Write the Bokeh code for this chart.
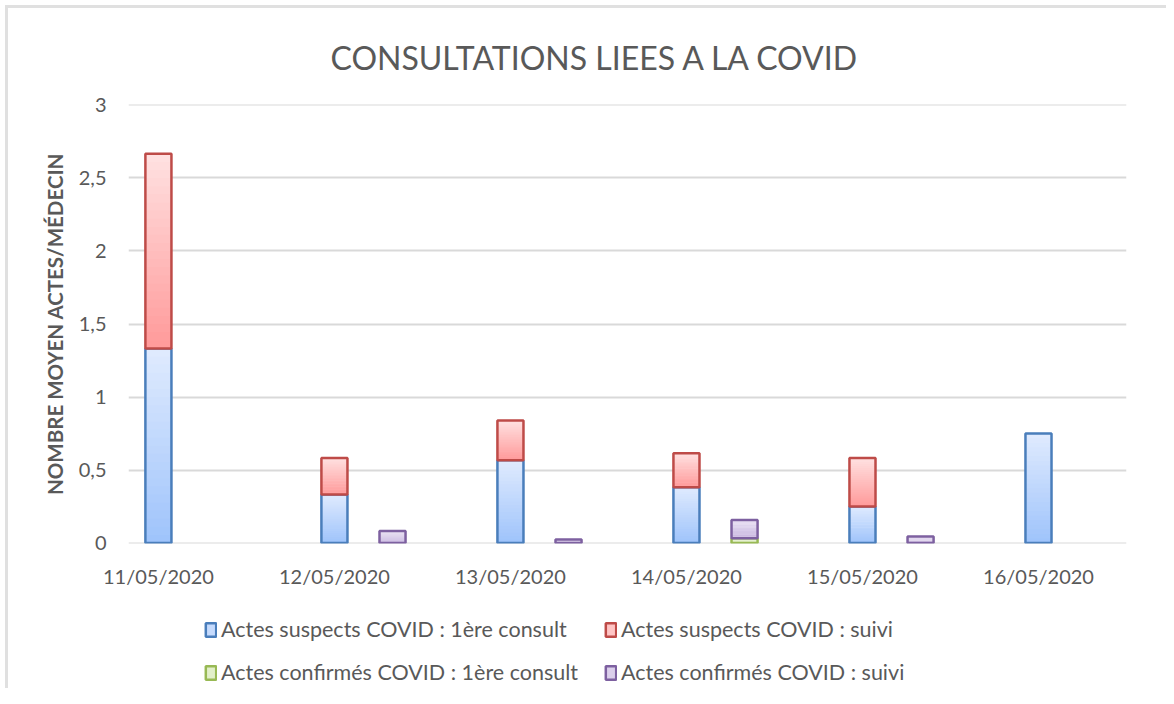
import numpy as np
from bokeh.plotting import figure
from bokeh.layouts import column
from bokeh.models import Range1d, FixedTicker, Legend, LegendItem, Title
from bokeh.embed import file_html
from bokeh.resources import INLINE

dates = ["11/05/2020", "12/05/2020", "13/05/2020", "14/05/2020", "15/05/2020", "16/05/2020"]
susp_first = [1.333, 0.333, 0.567, 0.383, 0.25, 0.75]
susp_suivi = [1.333, 0.25, 0.273, 0.232, 0.333, 0.0]
conf_first = [0.0, 0.0, 0.0, 0.033, 0.0, 0.0]
conf_suivi = [0.0, 0.083, 0.025, 0.125, 0.045, 0.0]

labels = ["Actes suspects COVID : 1ère consult", "Actes suspects COVID : suivi",
          "Actes confirmés COVID : 1ère consult", "Actes confirmés COVID : suivi"]

FONT = "Lato"
GREY = "#595959"

p = figure(width=1158, height=592, output_backend="svg", toolbar_location=None,
           x_range=Range1d(-0.17, 5.5), y_range=Range1d(-0.003, 3.003),
           min_border_left=120, min_border_right=40, min_border_top=96, min_border_bottom=57)
p.outline_line_color = None
p.xgrid.grid_line_color = None
p.ygrid.grid_line_color = "#d9d9d9"
p.ygrid.grid_line_width = 2

p.title = Title(text="CONSULTATIONS  LIEES A LA COVID", align="left", text_font=FONT,
                text_font_size="32px", text_font_style="normal", text_color=GREY,
                standoff=55, offset=202)

p.yaxis.ticker = FixedTicker(ticks=[0, 0.5, 1, 1.5, 2, 2.5, 3])
p.yaxis.major_label_overrides = {0: "0", 0.5: "0,5", 1: "1", 1.5: "1,5", 2: "2", 2.5: "2,5", 3: "3"}
p.xaxis.ticker = FixedTicker(ticks=list(range(len(dates))))
p.xaxis.major_label_overrides = {i: d for i, d in enumerate(dates)}
for ax in (p.xaxis, p.yaxis):
    ax.axis_line_color = None
    ax.major_tick_line_color = None
    ax.minor_tick_line_color = None
    ax.major_label_text_font = FONT
    ax.major_label_text_color = GREY
    ax.major_label_text_font_size = "20px"
p.yaxis.major_label_standoff = 16
p.xaxis.major_label_standoff = 14
p.yaxis.axis_label = "NOMBRE MOYEN ACTES/MÉDECIN"
p.yaxis.axis_label_text_font = FONT
p.yaxis.axis_label_text_font_style = "bold"
p.yaxis.axis_label_text_font_size = "20.5px"
p.yaxis.axis_label_text_color = GREY
p.yaxis.axis_label_standoff = 9

W = 0.148
OFF = 0.33
N = 24

def hex2rgb(h):
    h = h.lstrip("#")
    return np.array([int(h[i:i + 2], 16) for i in (0, 2, 4)], dtype=float)

def stack_segment(xs, bottoms, vals, top_col, bot_col, line_col):
    xs = np.asarray(xs, float)
    b = np.asarray(bottoms, float)
    v = np.asarray(vals, float)
    m = v > 0
    xs, b, v = xs[m], b[m], v[m]
    tc, bc = hex2rgb(top_col), hex2rgb(bot_col)
    L, R, B, T, C = [], [], [], [], []
    for k in range(N):
        f0, f1 = k / N, (k + 1) / N
        col = bc + (tc - bc) * (k + 0.5) / N
        c = "#%02x%02x%02x" % tuple(int(round(x)) for x in col)
        L += list(xs - W / 2); R += list(xs + W / 2)
        B += list(b + v * f0); T += list(b + v * min(f1 + 0.4 / N, 1.0))
        C += [c] * len(xs)
    p.quad(left=L, right=R, bottom=B, top=T, fill_color=C, line_color=None)
    p.quad(left=xs - W / 2, right=xs + W / 2, bottom=b, top=b + v,
           fill_color=None, line_color=line_col, line_width=2.5)

x_s = np.arange(len(dates))
x_c = x_s + OFF
sf = np.array(susp_first); ss = np.array(susp_suivi)
cf = np.array(conf_first); cs = np.array(conf_suivi)

styles = [("#e0ebfe", "#9ec3fb", "#4a7ebb"),
          ("#ffe1e1", "#ff9a9a", "#be4b48"),
          ("#eef6e0", "#cfe5a6", "#98b954"),
          ("#e9e1f3", "#c7b5df", "#7d60a0")]

stack_segment(x_s, np.zeros(len(dates)), sf, *styles[0])
stack_segment(x_s, sf, ss, *styles[1])
stack_segment(x_c, np.zeros(len(dates)), cf, *styles[2])
stack_segment(x_c, cf, cs, *styles[3])

# legend in its own figure below the chart
lf = figure(width=1158, height=88, output_backend="svg", toolbar_location=None,
            x_range=Range1d(0, 1), y_range=Range1d(0, 1), min_border=0)
lf.axis.visible = False
lf.grid.visible = False
lf.outline_line_color = None

items = {}
for lab, (tc, bc, lc) in zip(labels, styles):
    mid = "#%02x%02x%02x" % tuple(int(round(x)) for x in (hex2rgb(tc) * 0.6 + hex2rgb(bc) * 0.4))
    r = lf.quad(left=[-10], right=[-9], bottom=[-10], top=[-9], fill_color=mid,
                line_color=lc, line_width=2.5)
    items[lab] = LegendItem(label=lab, renderers=[r])

# column-major order so rows read: suspects / confirmés
order = [labels[0], labels[2], labels[1], labels[3]]
legend = Legend(items=[items[k] for k in order], ncols=2, location=(76, 3),
                label_text_font=FONT, label_text_color=GREY, label_text_font_size="21.5px",
                glyph_width=13, glyph_height=17, label_standoff=4, spacing=17,
                label_width=366,
                padding=0, margin=0, border_line_color=None, background_fill_alpha=0)
lf.add_layout(legend, "center")

layout = column(p, lf, spacing=0)
layout.styles = {"margin-left": "5px", "margin-top": "5px",
                 "border-left": "3px solid #e0e0e0", "border-top": "3px solid #e0e0e0"}

open("out.html", "w").write(file_html(layout, INLINE))
